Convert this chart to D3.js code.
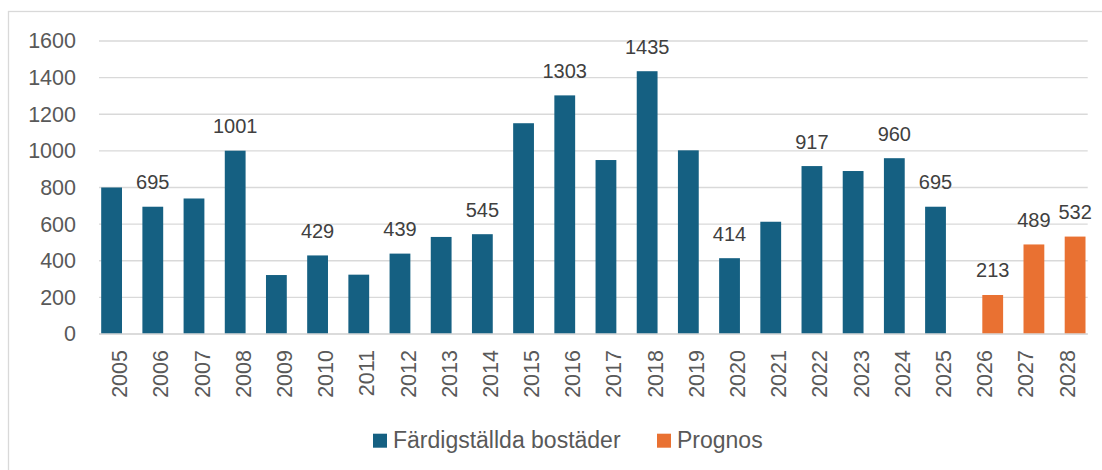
<!DOCTYPE html>
<html>
<head>
<meta charset="utf-8">
<script src="https://cdn.jsdelivr.net/npm/d3@7"></script>
<style>
  html, body { margin: 0; padding: 0; background: #ffffff; }
  svg { display: block; }
  text { font-family: "Liberation Sans", Arial, sans-serif; }
</style>
</head>
<body>
<svg id="chart" width="1102" height="470"></svg>
<script>
// Years on the category axis
const years = ["2005","2006","2007","2008","2009","2010","2011","2012","2013","2014",
               "2015","2016","2017","2018","2019","2020","2021","2022","2023","2024",
               "2025","2026","2027","2028"];

// Completed dwellings per year (null where no value)
const completed = [800, 695, 740, 1001, 322, 429, 324, 439, 530, 545,
                   1151, 1303, 950, 1435, 1003, 414, 613, 917, 890, 960,
                   695, null, null, null];

// Forecast values (null before the forecast period)
const forecast = [null, null, null, null, null, null, null, null, null, null,
                  null, null, null, null, null, null, null, null, null, null,
                  null, 213, 489, 532];

// Years whose bars carry a value label
const labelledYears = ["2006","2008","2010","2012","2014","2016","2018","2020",
                       "2022","2024","2025","2026","2027","2028"];

const seriesNames = ["Färdigställda bostäder", "Prognos"];
const seriesColors = ["#156082", "#E97132"];
const yTicks = [0, 200, 400, 600, 800, 1000, 1200, 1400, 1600];

const svg = d3.select("#chart");

// Chart area frame
svg.append("rect")
  .attr("x", 8.5).attr("y", 11.5)
  .attr("width", 1110).attr("height", 480)
  .attr("fill", "none").attr("stroke", "#D9D9D9").attr("stroke-width", 1.3);

const plot = { left: 99, right: 1087.7, top: 41, bottom: 334 };

const x0 = d3.scaleBand().domain(years).range([plot.left, plot.right]).padding(0);
const bw = x0.bandwidth();
const x1 = d3.scalePoint().domain(seriesNames).range([bw / 2 - 8, bw / 2 + 8]);
const barW = bw * 0.505;

const y = d3.scaleLinear().domain([0, 1600]).range([plot.bottom, plot.top]);

// Horizontal gridlines
svg.append("g")
  .selectAll("line")
  .data(yTicks)
  .join("line")
  .attr("x1", plot.left).attr("x2", plot.right)
  .attr("y1", d => y(d)).attr("y2", d => y(d))
  .attr("stroke", "#D9D9D9").attr("stroke-width", 1.4);

// Y axis tick labels
const yAxis = d3.axisLeft(y).tickValues(yTicks).tickFormat(d3.format("d")).tickSize(0).tickPadding(0);
const gy = svg.append("g").attr("transform", "translate(76,0)").call(yAxis);
gy.select(".domain").remove();
gy.selectAll("text")
  .attr("fill", "#595959")
  .style("font-size", "21.5px")
  .style("font-family", "'Liberation Sans', Arial, sans-serif");

// X axis year labels, rotated
const xAxis = d3.axisBottom(x0).tickSize(0).tickPadding(0);
const gx = svg.append("g").attr("transform", `translate(0,${plot.bottom})`).call(xAxis);
gx.select(".domain").remove();
gx.selectAll("text")
  .attr("fill", "#595959")
  .style("font-size", "21.5px")
  .style("font-family", "'Liberation Sans', Arial, sans-serif")
  .attr("text-anchor", "end")
  .attr("transform", "rotate(-90)")
  .attr("x", -16)
  .attr("y", 0)
  .attr("dy", "0.35em");

// Bars
const seriesData = [completed, forecast];
const bars = [];
seriesData.forEach((vals, si) => {
  vals.forEach((v, i) => {
    if (v !== null) bars.push({ year: years[i], value: v, series: seriesNames[si], color: seriesColors[si] });
  });
});

svg.append("g")
  .selectAll("rect")
  .data(bars)
  .join("rect")
  .attr("x", d => x0(d.year) + x1(d.series) - barW / 2)
  .attr("y", d => y(d.value))
  .attr("width", barW)
  .attr("height", d => y(0) - y(d.value))
  .attr("fill", d => d.color);

// Baseline
svg.append("line")
  .attr("x1", plot.left).attr("x2", plot.right)
  .attr("y1", y(0)).attr("y2", y(0))
  .attr("stroke", "#D9D9D9").attr("stroke-width", 1.4);

// Value labels
svg.append("g")
  .selectAll("text")
  .data(bars.filter(d => labelledYears.includes(d.year)))
  .join("text")
  .attr("x", d => x0(d.year) + x1(d.series))
  .attr("y", d => y(d.value) - 17.5)
  .attr("text-anchor", "middle")
  .attr("fill", "#404040")
  .style("font-size", "20px")
  .text(d => d.value);

// Legend
const legendItems = [
  { name: seriesNames[0], color: seriesColors[0], x: 373 },
  { name: seriesNames[1], color: seriesColors[1], x: 657 }
];
const lg = svg.append("g");
legendItems.forEach(it => {
  lg.append("rect")
    .attr("x", it.x).attr("y", 433.7)
    .attr("width", 14).attr("height", 14)
    .attr("fill", it.color);
  lg.append("text")
    .attr("x", it.x + 20).attr("y", 447.5)
    .attr("fill", "#595959")
    .style("font-size", "23px")
    .text(it.name);
});
</script>
</body>
</html>
